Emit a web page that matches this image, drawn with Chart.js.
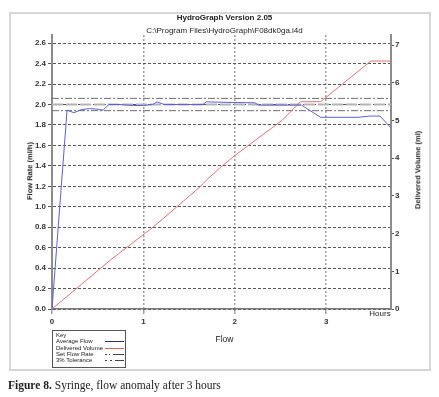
<!DOCTYPE html>
<html>
<head>
<meta charset="utf-8">
<script src="https://cdn.jsdelivr.net/npm/chart.js@4.4.1/dist/chart.umd.min.js"></script>
<style>
  body { margin: 0; background: #fff; font-family: "Liberation Sans", Arial, sans-serif; }
  #page { position: relative; width: 439px; height: 397px; overflow: hidden; }
  #frame { position: absolute; left: 9px; top: 12px; width: 418px; height: 355px; border: 2px solid #d6d6d6; }
  #c { position: absolute; left: 0; top: 0; }
  .t { position: absolute; white-space: nowrap; color: #222; line-height: 1; transform: translate(-50%, -50%); }
  .rot { transform: translate(-50%, -50%) rotate(-90deg); }
  #key { position: absolute; left: 52px; top: 330px; width: 74px; height: 38px; border: 1px solid #555;
         font-size: 6px; line-height: 6.3px; color: #222; padding: 1px 0 0 3px; box-sizing: border-box; }
  #key div { position: relative; height: 6.3px; }
  #key svg { position: absolute; left: 49px; top: 2px; }
  #cap { position: absolute; left: 8px; top: 379px; font-family: "Liberation Serif", serif; font-size: 11.5px; color: #222; white-space: nowrap; }
</style>
</head>
<body>
<div id="page">
  <div id="frame"></div>
  <canvas id="c" width="439" height="397"></canvas>
  <div class="t" style="left:224.5px;top:17.5px;font-size:8px;font-weight:bold">HydroGraph Version 2.05</div>
  <div class="t" style="left:224.5px;top:31px;font-size:8px">C:\Program Files\HydroGraph\F08dk0ga.i4d</div>
  <div class="t rot" style="left:30px;top:171px;font-size:7.5px;font-weight:bold">Flow Rate (ml/h)</div>
  <div class="t rot" style="left:418px;top:170px;font-size:7.5px;font-weight:bold">Delivered Volume (ml)</div>
  <div class="t" style="left:224.5px;top:339px;font-size:8.5px">Flow</div>
  <div class="t" style="left:380px;top:314px;font-size:8px">Hours</div>
  <div id="key">
    <div>Key</div>
    <div>Average Flow<svg width="19" height="3"><line x1="0" y1="1.5" x2="19" y2="1.5" stroke="#343466" stroke-width="1"/></svg></div>
    <div>Delivered Volume<svg width="19" height="3"><line x1="0" y1="1.5" x2="19" y2="1.5" stroke="#e06060" stroke-width="1"/></svg></div>
    <div>Set Flow Rate<svg width="19" height="3"><line x1="0" y1="1.5" x2="19" y2="1.5" stroke="#444" stroke-width="1" stroke-dasharray="2,2,1,3,11"/></svg></div>
    <div>3% Tolerance<svg width="19" height="3"><line x1="0" y1="1.5" x2="19" y2="1.5" stroke="#444" stroke-width="1" stroke-dasharray="2,3,2,3,9"/></svg></div>
  </div>
  <div id="cap"><b>Figure 8.</b> Syringe, flow anomaly after 3 hours</div>
</div>
<script>
// average flow (ml/h) against hours
const flowHours = [0, 0.165, 0.24, 0.32, 0.41, 0.49, 0.56, 0.62, 0.74, 0.89, 1.0, 1.1, 1.15, 1.23, 1.4, 1.65, 1.69, 1.98, 2.22, 2.26, 2.73, 2.94, 3.35, 3.48, 3.59, 3.7];
const flowRate  = [0, 1.945, 1.92, 1.95, 1.96, 1.955, 1.945, 2.0, 2.0, 1.99, 1.99, 2.0, 2.026, 2.0, 2.0, 2.0, 2.026, 2.02, 2.017, 1.994, 1.994, 1.875, 1.875, 1.887, 1.887, 1.78];

// delivered volume (ml) against hours
const volHours = [0, 0.64, 1.11, 1.62, 1.69, 1.84, 2.0, 2.52, 2.72, 2.94, 3.49, 3.71];
const volume   = [0, 1.30, 2.18, 3.24, 3.42, 3.75, 4.07, 5.01, 5.5, 5.5, 6.58, 6.58];

const setRate = 2.0;
const tolerance = 0.03;
const spanHours = [0, 3.71];

const pts = (xs, ys) => xs.map((x, i) => ({ x: x, y: ys[i] }));
const flat = v => spanHours.map(x => ({ x: x, y: v }));

const tickFont = { family: '"Liberation Sans", Arial, sans-serif', size: 8, weight: 'bold' };

new Chart(document.getElementById('c').getContext('2d'), {
  type: 'line',
  data: {
    datasets: [
      { label: 'Average Flow', data: pts(flowHours, flowRate), borderColor: '#5c60d6', borderWidth: 1, yAxisID: 'y' },
      { label: 'Delivered Volume', data: pts(volHours, volume), borderColor: '#e27272', borderWidth: 1, yAxisID: 'y1' },
      { label: 'Tolerance high', data: flat(setRate * (1 + tolerance)), borderColor: '#6e6e6e', borderWidth: 1, borderDash: [7, 2, 2, 2], yAxisID: 'y' },
      { label: 'Tolerance low', data: flat(setRate * (1 - tolerance)), borderColor: '#6e6e6e', borderWidth: 1, borderDash: [7, 2, 2, 2], yAxisID: 'y' },
      { label: 'Set Flow Rate', data: flat(setRate), borderColor: '#b4b4b4', borderWidth: 2, borderDash: [11, 3], yAxisID: 'y' }
    ]
  },
  options: {
    responsive: false,
    animation: false,
    layout: { padding: { top: 35, left: 0, right: 0, bottom: 0 } },
    elements: { point: { radius: 0 }, line: { tension: 0 } },
    plugins: { legend: { display: false }, tooltip: { enabled: false } },
    scales: {
      x: {
        type: 'linear', min: 0, max: 3.71,
        afterFit: s => { s.height = 88; },
        ticks: { stepSize: 1, includeBounds: false, padding: 3, color: '#333', font: tickFont },
        grid: { color: '#a0a0a0', lineWidth: 1.5, tickLength: 5, tickColor: '#a0a0a0' },
        border: { color: '#7a7a7a', width: 1.5, dash: [2, 2] }
      },
      y: {
        min: 0, max: 2.68,
        afterFit: s => { s.width = 52; },
        ticks: { stepSize: 0.2, includeBounds: false, padding: 2, color: '#333', font: tickFont, callback: v => v.toFixed(1) },
        grid: { color: '#555', lineWidth: 1, tickLength: 4, tickColor: '#555' },
        border: { color: '#8c8c8c', width: 2, dash: [3, 2] }
      },
      y1: {
        position: 'right', min: 0, max: 7.27,
        afterFit: s => { s.width = 48; },
        ticks: { stepSize: 1, includeBounds: false, padding: 1, color: '#333', font: tickFont },
        grid: { drawOnChartArea: false, tickLength: 3, color: '#555' },
        border: { color: '#8c8c8c', width: 2 }
      }
    }
  }
});
</script>
</body>
</html>
